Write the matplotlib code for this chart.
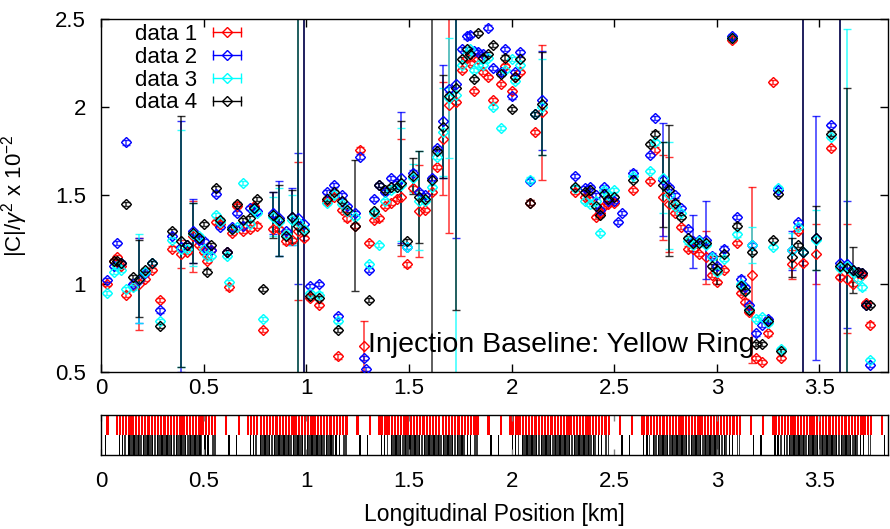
import numpy as np
import matplotlib
matplotlib.use("Agg")
import matplotlib.pyplot as plt
from matplotlib.legend_handler import HandlerBase
from matplotlib.lines import Line2D

plt.rcParams["font.family"] = ["Liberation Sans", "DejaVu Sans"]
plt.rcParams["mathtext.fontset"] = "custom"
plt.rcParams["mathtext.rm"] = "Liberation Sans"
plt.rcParams["mathtext.it"] = "Liberation Sans:italic"

nan = np.nan
RING_KM = 3.834

# ---- BPM positions [km] and |C|/gamma^2 x 1e-2 for the four data sets ----
pos_km = [
    0.028, 0.062, 0.077, 0.096, 0.120, 0.154, 0.184, 0.213, 0.247, 0.286,
    0.345, 0.388, 0.418, 0.447, 0.476, 0.500, 0.515, 0.535, 0.559, 0.578,
    0.613, 0.622, 0.637, 0.661, 0.690, 0.725, 0.744, 0.759, 0.788, 0.837,
    0.866, 0.900, 0.929, 0.959, 0.988, 1.017, 1.061, 1.100, 1.134, 1.153,
    1.173, 1.197, 1.235, 1.261, 1.280, 1.290, 1.305, 1.329, 1.353, 1.383,
    1.412, 1.440, 1.460, 1.490, 1.519, 1.548, 1.577, 1.612, 1.636, 1.665,
    1.694, 1.728, 1.758, 1.782, 1.797, 1.816, 1.836, 1.860, 1.884, 1.909,
    1.948, 1.967, 2.001, 2.016, 2.040, 2.089, 2.113, 2.148, 2.308, 2.357,
    2.381, 2.410, 2.430, 2.449, 2.469, 2.498, 2.518, 2.537, 2.591, 2.674,
    2.698, 2.737, 2.767, 2.796, 2.825, 2.859, 2.884, 2.912, 2.947, 2.976,
    3.000, 3.035, 3.073, 3.098, 3.117, 3.137, 3.156, 3.171, 3.190, 3.220,
    3.249, 3.273, 3.298, 3.312, 3.366, 3.395, 3.420, 3.484, 3.557, 3.600,
    3.634, 3.663, 3.687, 3.707, 3.726, 3.746,
]
data1 = [
    1.00, 1.13, 1.15, 1.10, 0.94, 0.99, 1.00, 1.03, 1.08, 0.91,
    1.20, 1.17, 1.18, 1.27, 1.22, 1.18, 1.13, 1.19, 1.35, 1.34,
    1.18, 0.98, 1.29, 1.44, 1.30, 1.31, 1.44, 1.33, 0.74, 1.31,
    1.31, 1.24, 1.25, 1.30, 1.26, 0.92, 0.88, 1.47, 1.49, 0.59,
    1.42, 1.37, 1.33, 1.76, 0.65, nan, 1.23, 1.36, 1.37, 1.44,
    1.46, 1.48, 1.49, 1.11, 1.54, 1.41, 1.42, 1.52, 1.66, 1.82,
    2.01, 2.03, 2.21, 2.28, 2.25, 2.09, 2.27, 2.20, 2.17, 2.04,
    2.13, 2.23, 2.09, 2.17, 2.20, 1.46, 1.86, 1.97, 1.52, 1.49,
    1.48, 1.38, 1.40, 1.44, 1.45, 1.46, nan, nan, 1.53, 1.58,
    1.76, 1.49, 1.45, 1.40, 1.32, 1.20, 1.20, 1.17, 1.15, 1.05,
    1.01, 1.08, 2.38, 1.23, 0.95, 0.90, 0.84, 1.05, 0.58, 0.56,
    0.72, 2.14, nan, 0.58, 1.11, 1.30, 1.12, 1.17, 1.77, 1.04,
    1.03, 1.00, 1.06, 1.05, 0.89, 0.77,
]
data2 = [
    1.02, 1.10, 1.23, 1.12, 1.80, 1.00, 1.02, 1.06, 1.12, 0.85,
    1.27, 1.21, 1.22, 1.30, 1.25, 1.24, 1.19, 1.19, 1.51, 1.32,
    1.18, nan, 1.32, 1.40, 1.33, 1.43, 1.43, 1.41, nan, 1.40,
    1.37, 1.30, 1.38, 1.37, 1.34, 0.99, 1.00, 1.52, 1.56, 0.82,
    1.50, 1.44, 1.40, 1.72, 0.58, 0.52, 1.08, 1.48, 1.56, 1.52,
    1.60, 1.57, 1.60, 1.21, 1.63, 1.52, 1.50, 1.60, 1.77, 1.92,
    2.10, 2.13, 2.33, 2.40, 2.41, 2.32, 2.31, 2.30, 2.45, 2.22,
    2.20, 2.33, 2.06, 2.20, 2.31, 1.58, 1.96, 2.04, 1.61, 1.54,
    1.55, 1.50, 1.42, 1.55, 1.47, 1.47, 1.35, 1.40, 1.63, 1.73,
    1.94, 1.59, 1.55, 1.50, 1.43, 1.31, 1.24, 1.25, 1.25, 1.16,
    1.10, 1.20, 2.40, 1.38, 1.03, 0.98, 0.88, 1.22, 0.72, 0.77,
    0.80, nan, 1.53, nan, 1.19, 1.35, 1.18, 1.26, 1.90, 1.12,
    1.11, 1.08, 1.07, 1.06, 0.88, 0.54,
]
data3 = [
    0.95, 1.07, 1.10, 1.08, 0.97, 0.98, 1.03, 1.07, 1.12, 0.79,
    1.25, 1.20, 1.20, 1.28, 1.27, 1.20, 1.16, 1.16, 1.39, 1.35,
    1.16, 1.01, 1.31, 1.32, 1.57, 1.34, 1.42, 1.40, 0.80, 1.38,
    1.35, 1.28, 1.36, 1.35, 1.31, 0.95, 0.94, 1.46, 1.50, 0.79,
    1.45, 1.41, 1.38, nan, nan, nan, 1.11, 1.40, 1.22, 1.47,
    1.53, 1.55, 1.56, 1.21, 1.60, 1.47, 1.47, 1.55, 1.72, 1.86,
    2.05, 2.07, 2.24, 2.30, 2.33, 2.21, 2.24, 2.24, 2.28, 2.00,
    1.88, 2.21, 2.27, 2.15, 2.24, 1.59, 1.96, 2.00, 1.54, 1.47,
    1.45, 1.47, 1.29, 1.53, 1.50, 1.53, nan, nan, 1.61, 1.64,
    1.80, 1.60, 1.50, 1.44, 1.40, 1.24, 1.22, 1.24, 1.22, 1.15,
    1.07, 1.14, 2.39, 1.28, 1.00, 0.96, 0.86, 1.22, 0.80, 0.81,
    0.78, 1.21, 1.54, 0.63, 1.19, 1.32, 1.18, 1.25, 1.83, 1.09,
    1.10, 1.07, 1.03, 0.98, nan, 0.57,
]
data4 = [
    nan, 1.13, 1.13, 1.12, 1.45, 1.04, 1.03, 1.08, 1.12, 0.76,
    1.30, 1.24, 1.22, 1.29, 1.26, 1.34, 1.07, 1.22, 1.54, 1.36,
    1.18, nan, 1.31, 1.45, 1.36, 1.37, 1.43, 1.48, 0.97, 1.39,
    1.36, 1.27, 1.38, 1.33, 1.30, 0.93, 0.92, 1.48, 1.52, 0.74,
    1.47, 1.42, 1.33, nan, nan, nan, 0.91, 1.41, 1.56, 1.53,
    1.55, 1.55, 1.57, 1.24, 1.61, 1.49, 1.48, 1.59, 1.75, 1.89,
    2.06, 2.11, 2.27, 2.33, 2.30, 2.16, 2.42, 2.28, 2.30, 2.35,
    2.19, 2.28, 1.99, 2.17, 2.27, 1.46, 1.96, 2.02, 1.55, 1.52,
    1.53, 1.44, 1.39, 1.51, 1.48, 1.49, nan, nan, 1.59, 1.79,
    1.85, 1.56, 1.53, 1.46, 1.38, 1.26, 1.23, 1.23, 1.23, 1.10,
    1.08, 1.17, 2.39, 1.33, 0.99, 0.96, 0.85, 1.18, 0.66, 0.66,
    0.79, 1.25, 1.51, 0.62, 1.15, 1.22, 1.18, 1.26, 1.85, 1.10,
    1.09, 1.08, 1.07, 1.06, 0.88, 0.88,
]

# error bars: small default, larger ones listed by position
BASE_ERR = 0.012
err1_at = {0.184: 0.26, 0.388: 0.08, 0.447: 0.20, 0.959: 0.39, 1.280: 0.14,
           1.460: 0.33, 1.548: 0.26, 1.665: 0.32, 1.694: 0.72, 2.148: 0.38,
           2.737: 0.24, 2.767: 0.27, 2.947: 0.15, 3.171: 0.50, 3.366: 0.08,
           3.484: 0.17, 3.634: 0.31}
err2_at = {0.184: 0.24, 0.388: 0.71, 0.447: 0.18, 0.837: 0.12, 0.866: 0.21,
           0.929: 0.16, 0.959: 0.37, 0.988: 3.0, 1.460: 0.37, 1.665: 0.32,
           1.728: 0.87, 2.148: 0.28, 2.737: 0.32, 2.884: 0.15, 2.947: 0.22,
           3.366: 0.11, 3.420: 3.0, 3.484: 0.69, 3.600: 3.0, 3.634: 0.36}
err3_at = {0.184: 0.25, 0.388: 0.67, 0.447: 0.18, 0.837: 0.11, 0.866: 0.19,
           0.929: 0.14, 0.959: 3.0, 1.460: 0.32, 1.519: 0.08, 1.548: 0.28,
           1.665: 0.25, 1.694: 0.34, 1.728: 3.0, 2.148: 0.27, 2.737: 0.20,
           2.767: 0.30, 3.171: 0.10, 3.366: 0.10, 3.484: 0.17, 3.634: 1.34}
err4_at = {0.184: 0.22, 0.388: 0.71, 0.447: 0.17, 0.837: 0.13, 0.866: 0.20,
           0.929: 0.15, 0.959: 3.0, 0.988: 3.0, 1.235: 0.37, 1.460: 0.35,
           1.519: 0.10, 1.548: 0.26, 1.612: 3.0, 1.665: 0.29, 1.728: 1.26,
           2.148: 0.29, 2.737: 0.24, 2.767: 0.37, 3.000: 0.08, 3.366: 0.11,
           3.420: 3.0, 3.484: 0.18, 3.600: 3.0, 3.634: 1.02, 3.663: 0.13}

labels = ["data 1", "data 2", "data 3", "data 4"]
colors = ["#ff0000", "#0000ff", "#00ffff", "#000000"]

# ---- magnet layout for the strip below (offsets from each arc start) ----
arc_start_km = [0.072, 0.711, 1.350, 1.989, 2.628, 3.267]
arc_dipole_km = [0.000, 0.013, 0.029, 0.044, 0.060, 0.075, 0.091, 0.106,
                 0.122, 0.137, 0.153, 0.168, 0.184, 0.199, 0.215, 0.230,
                 0.246, 0.261, 0.277, 0.292, 0.308, 0.323, 0.339, 0.354,
                 0.370, 0.385, 0.401, 0.416, 0.432, 0.447, 0.463, 0.478]
ir_dipole_km = [0.532, 0.592]
quad_km = [0.012, 0.027, 0.060, 0.083, 0.106, 0.129, 0.152, 0.175, 0.198,
           0.221, 0.244, 0.267, 0.290, 0.313, 0.336, 0.359, 0.382, 0.405,
           0.430, 0.445, 0.546, 0.583]
corrector_km = [0.040, 0.068, 0.074, 0.091, 0.097, 0.114, 0.120, 0.137,
                0.143, 0.160, 0.166, 0.183, 0.189, 0.206, 0.212, 0.229,
                0.235, 0.252, 0.258, 0.275, 0.281, 0.298, 0.304, 0.321,
                0.327, 0.344, 0.350, 0.367, 0.373, 0.390, 0.396, 0.413,
                0.468, 0.478]


class GnuplotHandle(HandlerBase):
    """Legend sample drawn gnuplot-style: |--<>--|"""

    def create_artists(self, legend, orig, xdescent, ydescent, width, height,
                       fontsize, trans):
        y = height / 2 - ydescent
        x0, x1 = -xdescent, width - xdescent
        c = orig.get_color()
        bar = Line2D([x0, x1], [y, y], color=c, lw=1.0, marker="|",
                     markersize=7, markeredgewidth=1.0, transform=trans)
        mk = Line2D([(x0 + x1) / 2], [y], color=c, marker="D", ls="none",
                    markersize=5.0, markerfacecolor="none",
                    markeredgewidth=1.0, transform=trans)
        return [bar, mk]


def errs(at):
    return [at.get(p, BASE_ERR) for p in pos_km]


fig = plt.figure(figsize=(8.9, 5.29), dpi=100)
ax = fig.add_axes([101.3 / 890, 1 - 372.3 / 529, 786.7 / 890, 353.6 / 529])
ax_s = fig.add_axes([101.3 / 890, 1 - 454.5 / 529, 786.7 / 890, 39.5 / 529])

handles = []
for vals, at, c, lab in zip([data1, data2, data3, data4],
                            [err1_at, err2_at, err3_at, err4_at], colors, labels):
    ax.errorbar(pos_km, vals, yerr=errs(at), fmt="none", ecolor=c,
                elinewidth=1.1, capsize=2.8, capthick=1.0, alpha=0.8, zorder=2)
    ax.plot(pos_km, vals, ls="none", marker="D", markersize=5.0,
            markerfacecolor="none", markeredgecolor=c, markeredgewidth=1.0,
            zorder=3)
    handles.append(Line2D([], [], color=c, label=lab))

ax.set_xlim(0, RING_KM)
ax.set_ylim(0.5, 2.5)
ax.set_xticks([0, 0.5, 1, 1.5, 2, 2.5, 3, 3.5])
ax.set_xticklabels(["0", "0.5", "1", "1.5", "2", "2.5", "3", "3.5"])
ax.set_yticks([0.5, 1, 1.5, 2, 2.5])
ax.set_yticklabels(["0.5", "1", "1.5", "2", "2.5"])
ax.tick_params(direction="in", length=6, width=1.0, labelsize=16,
               top=True, right=True)
ax.tick_params(axis="x", pad=4)
ax.tick_params(axis="y", pad=11)
for sp in ax.spines.values():
    sp.set_linewidth(1.0)
ax.set_ylabel(r"|C|/$\gamma^2$ x 10$^{-2}$", fontsize=16)
ax.yaxis.set_label_coords(-0.09, 0.5)

ax.text(1.30, 0.615, "Injection Baseline: Yellow Ring", fontsize=20.5,
        ha="left", va="baseline")

ax.legend(handles=handles, handler_map={Line2D: GnuplotHandle()},
          loc="upper left", bbox_to_anchor=(0.043, 0.985), frameon=False,
          markerfirst=False, fontsize=16, handlelength=1.25,
          handletextpad=0.7, labelspacing=0.08, borderpad=0,
          borderaxespad=0)

# ---- magnet strip ----
for s in arc_start_km:
    dip = [(s + d) % RING_KM for d in arc_dipole_km + ir_dipole_km]
    ax_s.bar(dip, 0.5, bottom=0.5, width=0.011, color="#ff0000",
             align="edge", linewidth=0)
    cor = [(s + d) % RING_KM for d in corrector_km]
    ax_s.bar(cor, 0.5, bottom=0.0, width=0.008, color="#3a3a3a",
             align="edge", linewidth=0)
    qd = [(s + d) % RING_KM for d in quad_km]
    ax_s.bar(qd, 0.5, bottom=0.0, width=0.007, color="#000000",
             align="edge", linewidth=0)

ax_s.set_xlim(0, RING_KM)
ax_s.set_ylim(0, 1)
ax_s.set_yticks([])
ax_s.set_xticks([0, 0.5, 1, 1.5, 2, 2.5, 3, 3.5])
ax_s.set_xticklabels(["0", "0.5", "1", "1.5", "2", "2.5", "3", "3.5"])
ax_s.tick_params(direction="in", length=4, width=1.0, labelsize=16,
                 top=True, pad=12, color="#808080")
for sp in ax_s.spines.values():
    sp.set_linewidth(1.0)
ax_s.set_xlabel("Longitudinal Position [km]", fontsize=16.5)
ax_s.xaxis.set_label_coords(0.5, -1.22)

fig.savefig("out.png", dpi=100)
